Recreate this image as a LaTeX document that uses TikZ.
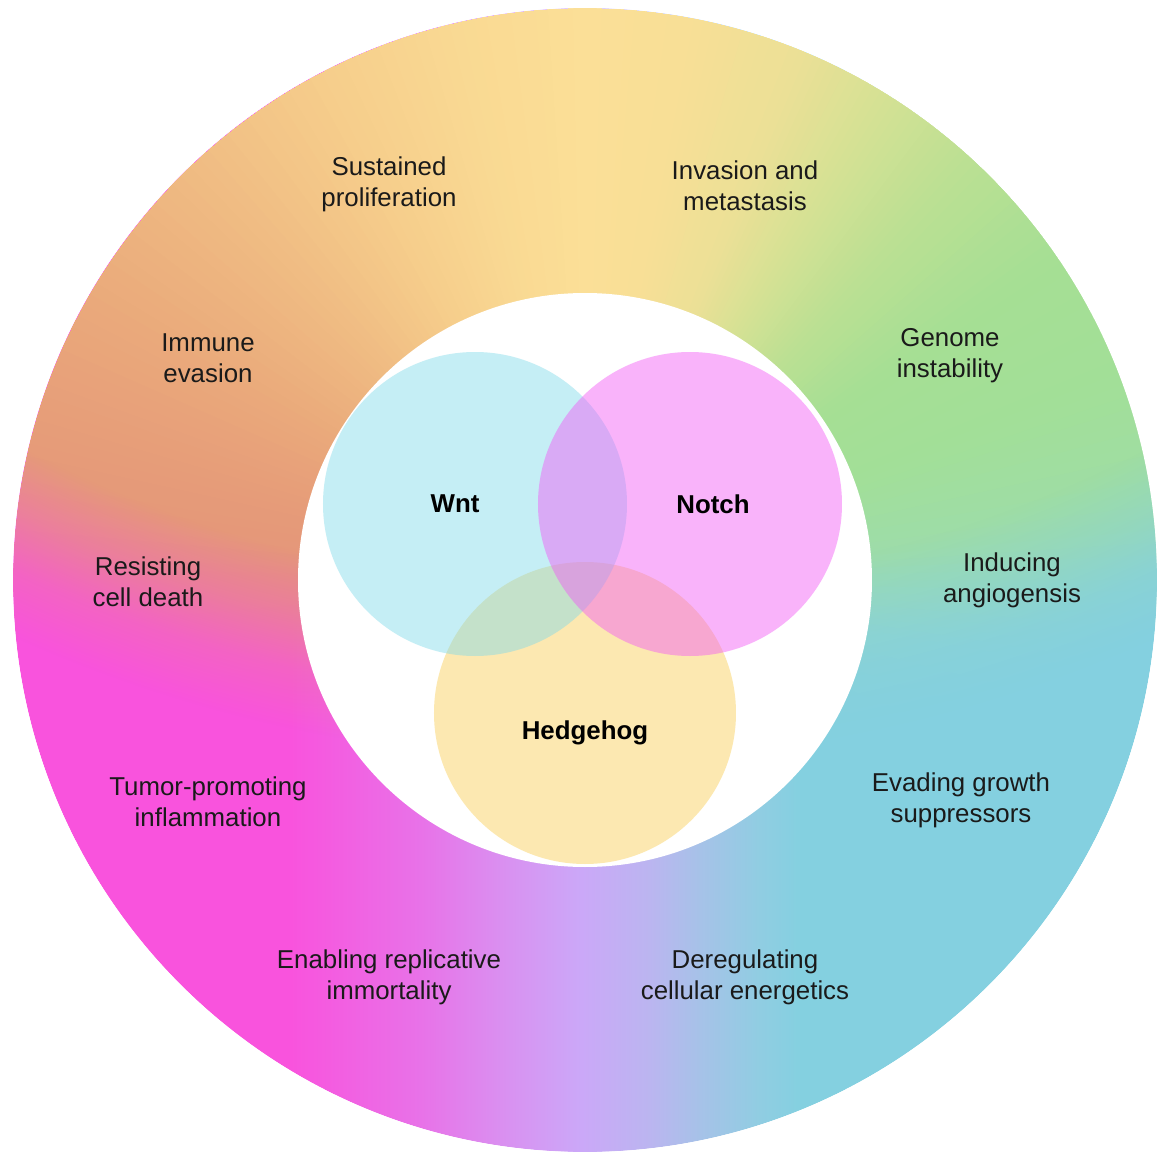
\documentclass[tikz,border=0pt]{standalone}
\usepackage{fontspec}
\setmainfont{Liberation Sans}
\usetikzlibrary{fadings}

% lower half of the ring: left-to-right colour sweep
\definecolor{bMag}{RGB}{249,83,221}
\definecolor{bB}{RGB}{232,114,232}
\definecolor{bC}{RGB}{218,143,240}
\definecolor{bLav}{RGB}{203,168,248}
\definecolor{bE}{RGB}{187,181,240}
\definecolor{bF}{RGB}{166,194,232}
\definecolor{bG}{RGB}{144,205,226}
\definecolor{bCyan}{RGB}{132,208,224}

% upper part of the ring: colours by angle around the centre
\definecolor{tA}{RGB}{134,210,220}
\definecolor{tB}{RGB}{147,215,198}
\definecolor{tC}{RGB}{157,220,170}
\definecolor{tD}{RGB}{162,223,152}
\definecolor{tE}{RGB}{166,223,148}
\definecolor{tF}{RGB}{188,224,147}
\definecolor{tG}{RGB}{212,225,148}
\definecolor{tH}{RGB}{236,224,150}
\definecolor{tI}{RGB}{248,223,150}
\definecolor{tJ}{RGB}{251,223,151}
\definecolor{tK}{RGB}{249,216,146}
\definecolor{tL}{RGB}{245,203,138}
\definecolor{tM}{RGB}{239,186,130}
\definecolor{tN}{RGB}{234,170,123}
\definecolor{tO}{RGB}{230,156,121}
\definecolor{tP}{RGB}{228,148,122}
\definecolor{tQ}{RGB}{228,142,128}

% Venn circle base colours (used with partial opacity)
\definecolor{wntcol}{RGB}{128,218,233}
\definecolor{notchcol}{RGB}{242,88,246}
\definecolor{hhcol}{RGB}{250,206,84}
\definecolor{labelcol}{RGB}{26,26,26}

\pgfdeclarehorizontalshading{bottomgrad}{100bp}{%
  color(0bp)=(bMag); color(37.1bp)=(bMag); color(42.8bp)=(bB);
  color(46.3bp)=(bC); color(49.8bp)=(bLav); color(52.8bp)=(bE);
  color(55bp)=(bF); color(57.6bp)=(bG); color(59.4bp)=(bCyan);
  color(100bp)=(bCyan)}

% soft-edged disc used to blend the upper colours into the lower ones
\pgfdeclareradialshading{topsoft}{\pgfpoint{0cm}{0cm}}{%
  color(0cm)=(pgftransparent!0); color(12.15cm)=(pgftransparent!0);
  color(12.75cm)=(pgftransparent!35); color(13.3cm)=(pgftransparent!75);
  color(13.9cm)=(pgftransparent!100); color(14.5cm)=(pgftransparent!100)}
\pgfdeclarefading{topmask}{\pgfuseshading{topsoft}}

\tikzset{
  hallmark/.style={text=labelcol, align=center,
    font=\fontsize{7.35pt}{8.82pt}\selectfont},
  pathway/.style={text=black, font=\fontsize{7.35pt}{8.82pt}\selectfont\bfseries},
  venn/.style={fill opacity=0.45}
}

\begin{document}
\begin{tikzpicture}[x=0.01cm, y=-0.01cm]
\useasboundingbox (0,0) rectangle (1162,1154);

% coloured ring
\begin{scope}
  \clip (585,580) circle (572);
  \shade[shading=bottomgrad] (13,8) rectangle (1158,1152);
  \begin{scope}
    \pgfsetfading{topmask}{\pgftransformshift{\pgfpoint{5.85cm}{6.3cm}}}
    \begin{scope}[transparency group]
      \begin{scope}[shift={(585,580)}, y=0.01cm]
        \foreach \a/\b/\ca/\cb in {-60/-10/tA/tB, -10/5/tB/tC, 5/20/tC/tD,
            20/35/tD/tE, 35/48/tE/tF, 48/58/tF/tG, 58/68/tG/tH, 68/80/tH/tI,
            80/90/tI/tJ, 90/105/tJ/tK, 105/120/tK/tL, 120/135/tL/tM,
            135/150/tM/tN, 150/165/tN/tO, 165/180/tO/tP, 180/240/tP/tQ}{
          \foreach \i in {0,...,11}{
            \pgfmathsetmacro\angA{\a+(\b-\a)*\i/12}
            \pgfmathsetmacro\angB{\a+(\b-\a)*(\i+1)/12+0.15}
            \pgfmathtruncatemacro\pct{round(100*(\i+0.5)/12)}
            \colorlet{wedgecol}{\cb!\pct!\ca}
            \fill[wedgecol] (0,0) -- (\angA:900) -- (\angB:900) -- cycle;
          }
        }
      \end{scope}
    \end{scope}
  \end{scope}
\end{scope}
% clean outer rim
\draw[white, line width=0.5pt] (585,580) circle (573);

% white centre
\fill[white] (585,580) circle (287);

% Venn diagram
\fill[hhcol, venn] (585,713) circle (151);
\fill[wntcol, venn] (475,504) circle (152);
\fill[notchcol, venn] (690,504) circle (152);

\node[pathway] (wnt) at (455,504) {Wnt};
\node[pathway] (notch) at (713,504) {Notch};
\node[pathway] (hedgehog) at (585,733) {Hedgehog};

% hallmark labels around the ring
\node[hallmark] (prolif) at (389,184) {Sustained\\proliferation};
\node[hallmark] (invasion) at (745,186) {Invasion and\\metastasis};
\node[hallmark] (immune) at (208,358) {Immune\\evasion};
\node[hallmark] (genome) at (950,356) {Genome\\instability};
\node[hallmark] (death) at (148,582) {Resisting\\cell death};
\node[hallmark] (angio) at (1012,580) {Inducing\\angiogensis};
\node[hallmark] (inflam) at (208,802) {Tumor-promoting\\inflammation};
\node[hallmark] (suppress) at (961,800) {Evading growth\\suppressors};
\node[hallmark] (immortal) at (389,977) {Enabling replicative\\immortality};
\node[hallmark] (energy) at (745,977) {Deregulating\\cellular energetics};
\end{tikzpicture}
\end{document}
